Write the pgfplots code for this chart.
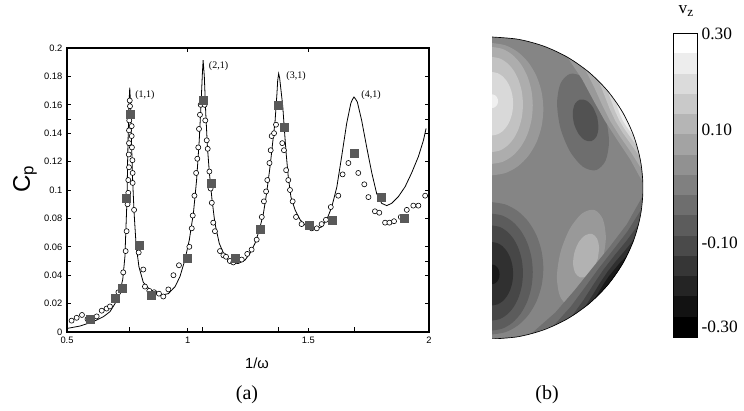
\documentclass[border=0pt]{standalone}
\usepackage{fontspec}
\setmainfont{Liberation Serif}
\setsansfont{Liberation Sans}
\usepackage{pgfplots}
\pgfplotsset{compat=1.18}

\begin{document}
\begin{tikzpicture}
\path[use as bounding box] (0pt,0pt) rectangle (558pt,308.25pt);

% ---------------- (a) power coefficient ----------------
\begin{axis}[
    at={(50.25pt,59.25pt)}, anchor=south west,
    scale only axis, width=271.5pt, height=213pt,
    xmin=0.5, xmax=2, ymin=0, ymax=0.2,
    xtick={0.5,1,1.5,2}, xticklabels={0.5,1,1.5,2},
    ytick={0,0.02,0.04,0.06,0.08,0.1,0.12,0.14,0.16,0.18,0.2},
    yticklabels={0,0.02,0.04,0.06,0.08,0.1,0.12,0.14,0.16,0.18,0.2},
    extra x ticks={0.76,1.062,1.376,1.689}, extra x tick labels={},
    extra x tick style={major tick length=4pt, tick pos=left},
    extra y ticks={0.05,0.15}, extra y tick labels={},
    tick align=inside, major tick length=3pt,
    every tick/.style={black, line width=0.6pt},
    ticklabel style={font=\sffamily\fontsize{7}{7}\selectfont},
    axis line style={line width=0.8pt},
]
% theory
\addplot[black, line width=0.6pt] coordinates {
 (0.5,0.0025) (0.554,0.0042) (0.609,0.0073) (0.651,0.0108) (0.678,0.0143)
 (0.699,0.020) (0.717,0.027) (0.731,0.037) (0.740,0.053) (0.744,0.072)
 (0.749,0.095) (0.751,0.119) (0.754,0.142) (0.757,0.161) (0.760,0.172)
 (0.764,0.159) (0.768,0.130) (0.772,0.107) (0.778,0.084) (0.786,0.062)
 (0.798,0.046) (0.816,0.035) (0.837,0.031) (0.865,0.027) (0.892,0.026)
 (0.920,0.027) (0.948,0.032) (0.968,0.039) (0.989,0.051) (1.007,0.065)
 (1.024,0.084) (1.037,0.107) (1.048,0.135) (1.055,0.159) (1.061,0.182)
 (1.064,0.1915) (1.069,0.180) (1.075,0.154) (1.082,0.130) (1.090,0.112)
 (1.101,0.093) (1.113,0.0765) (1.131,0.0624) (1.155,0.053) (1.182,0.0488)
 (1.210,0.0483) (1.238,0.0507) (1.258,0.0554) (1.279,0.0624) (1.297,0.0718)
 (1.314,0.0836) (1.327,0.0976) (1.341,0.116) (1.355,0.1375) (1.362,0.148)
 (1.370,0.168) (1.373,0.177) (1.377,0.182) (1.381,0.179) (1.385,0.173)
 (1.394,0.159) (1.401,0.142) (1.408,0.126) (1.417,0.109) (1.428,0.095)
 (1.445,0.086) (1.466,0.079) (1.493,0.074) (1.528,0.0725) (1.555,0.074)
 (1.576,0.079) (1.597,0.088) (1.618,0.102) (1.638,0.1235) (1.659,0.147)
 (1.676,0.161) (1.682,0.1635) (1.689,0.1655) (1.696,0.164) (1.703,0.162)
 (1.721,0.149) (1.742,0.130) (1.763,0.112) (1.783,0.0976) (1.804,0.0906)
 (1.825,0.089) (1.845,0.0906) (1.873,0.0953) (1.901,0.1023) (1.928,0.112)
 (1.956,0.1235) (1.977,0.135) (1.988,0.1434)
};
% open circles
\addplot[only marks, mark=*, mark size=1.9pt,
  mark options={draw=black, fill=white, line width=0.45pt}] coordinates {
 (0.519,0.008) (0.540,0.010) (0.562,0.012) (0.585,0.009) (0.623,0.011)
 (0.644,0.015) (0.664,0.0165) (0.678,0.018) (0.713,0.028) (0.733,0.042)
 (0.743,0.057) (0.747,0.071) (0.751,0.090) (0.754,0.098) (0.754,0.107)
 (0.757,0.116) (0.756,0.125) (0.757,0.133) (0.757,0.142) (0.758,0.149)
 (0.761,0.159) (0.760,0.163) (0.765,0.154) (0.768,0.145) (0.768,0.138)
 (0.769,0.130) (0.771,0.121) (0.772,0.112) (0.772,0.105) (0.778,0.086)
 (0.797,0.056) (0.816,0.044) (0.823,0.032) (0.841,0.029) (0.861,0.028)
 (0.881,0.027) (0.899,0.025) (0.920,0.030) (0.941,0.040) (0.964,0.047)
 (1.007,0.060) (1.017,0.073) (1.021,0.082) (1.028,0.096) (1.035,0.112)
 (1.040,0.122) (1.044,0.130) (1.047,0.143) (1.051,0.153) (1.054,0.160)
 (1.062,0.163) (1.070,0.160) (1.073,0.149) (1.079,0.135) (1.083,0.129)
 (1.090,0.113) (1.095,0.101) (1.100,0.091) (1.106,0.077) (1.113,0.071)
 (1.134,0.057) (1.148,0.054) (1.159,0.053) (1.175,0.050) (1.189,0.049)
 (1.206,0.050) (1.224,0.051) (1.247,0.055) (1.265,0.058) (1.286,0.065)
 (1.307,0.081) (1.316,0.092) (1.325,0.099) (1.330,0.107) (1.339,0.119)
 (1.344,0.128) (1.348,0.138) (1.358,0.140) (1.366,0.146) (1.392,0.133)
 (1.399,0.128) (1.408,0.114) (1.417,0.107) (1.424,0.100) (1.435,0.092)
 (1.449,0.081) (1.472,0.076) (1.514,0.073) (1.535,0.073) (1.555,0.076)
 (1.573,0.079) (1.593,0.088) (1.624,0.096) (1.642,0.111) (1.666,0.119)
 (1.707,0.112) (1.732,0.104) (1.749,0.095) (1.776,0.085) (1.794,0.084)
 (1.818,0.077) (1.836,0.077) (1.855,0.078) (1.883,0.081) (1.908,0.086)
 (1.935,0.089) (1.956,0.089) (1.984,0.096)
};
% filled squares
\addplot[only marks, mark=square*, mark size=3pt, color=black!65] coordinates {
 (0.595,0.009) (0.699,0.0237) (0.729,0.031) (0.747,0.094) (0.764,0.153)
 (0.800,0.061) (0.849,0.0256) (1.000,0.052) (1.065,0.163) (1.097,0.105)
 (1.198,0.052) (1.300,0.072) (1.376,0.160) (1.399,0.144) (1.503,0.075)
 (1.601,0.079) (1.689,0.126) (1.803,0.0946) (1.899,0.080)
};
\node[font=\fontsize{7.5}{7.5}\selectfont] at (axis cs:0.823,0.1668) {(1,1)};
\node[font=\fontsize{7.5}{7.5}\selectfont] at (axis cs:1.128,0.1873) {(2,1)};
\node[font=\fontsize{7.5}{7.5}\selectfont] at (axis cs:1.449,0.1799) {(3,1)};
\node[font=\fontsize{7.5}{7.5}\selectfont] at (axis cs:1.760,0.1668) {(4,1)};
\end{axis}

\node[rotate=90, font=\sffamily\fontsize{18}{18}\selectfont] at (18.75pt,174pt) {C\textsubscript{p}};
\node[font=\sffamily\fontsize{11}{11}\selectfont] at (192.75pt,36pt) {1/ω};
\node[font=\fontsize{15}{15}\selectfont] at (185.25pt,12pt) {(a)};
\node[font=\fontsize{15}{15}\selectfont] at (410.25pt,12pt) {(b)};

% ---------------- (b) v_z on the half disk ----------------
\begin{axis}[
    at={(369pt,54pt)}, anchor=south west,
    scale only axis, width=113.25pt, height=226.5pt,
    xmin=0, xmax=1, ymin=-1, ymax=1,
    hide axis,
]
% background level
\addplot[draw=none, fill=black!48, smooth] coordinates {
 (0,-1) (0.1736,-0.9848) (0.3420,-0.9397) (0.5,-0.8660) (0.6428,-0.7660)
 (0.7660,-0.6428) (0.8660,-0.5) (0.9397,-0.3420) (0.9848,-0.1736) (1,0)
 (0.9848,0.1736) (0.9397,0.3420) (0.8660,0.5) (0.7660,0.6428) (0.6428,0.7660)
 (0.5,0.8660) (0.3420,0.9397) (0.1736,0.9848) (0,1)} -- cycle;
% positive cell on the axis (upper left)
\addplot[draw=none, fill=black!40, smooth] coordinates {
 (0,0.960) (0.0881,0.9451) (0.170,0.9013) (0.2404,0.8317) (0.2944,0.741)
 (0.3284,0.6354) (0.34,0.522) (0.3284,0.4086) (0.2944,0.303) (0.2404,0.2123)
 (0.170,0.1427) (0.0881,0.0989) (0,0.084)} -- cycle;
\addplot[draw=none, fill=black!32, smooth] coordinates {
 (0,0.934) (0.0699,0.9208) (0.135,0.8821) (0.1909,0.8206) (0.2338,0.7405)
 (0.2608,0.6472) (0.27,0.547) (0.2608,0.4468) (0.2338,0.3535) (0.1909,0.2734)
 (0.135,0.2119) (0.0699,0.1732) (0,0.160)} -- cycle;
\addplot[draw=none, fill=black!24, smooth] coordinates {
 (0,0.868) (0.0531,0.8573) (0.1025,0.8258) (0.1449,0.7757) (0.1775,0.7105)
 (0.198,0.6346) (0.205,0.553) (0.198,0.4714) (0.1775,0.3955) (0.1449,0.3303)
 (0.1025,0.2802) (0.0531,0.2487) (0,0.238)} -- cycle;
\addplot[draw=none, fill=black!15, smooth] coordinates {
 (0,0.768) (0.0363,0.7609) (0.07,0.7399) (0.099,0.7065) (0.1212,0.663)
 (0.1352,0.6124) (0.14,0.558) (0.1352,0.5036) (0.1212,0.453) (0.099,0.4095)
 (0.07,0.3761) (0.0363,0.3551) (0,0.348)} -- cycle;
\addplot[draw=none, fill=black!6, smooth] coordinates {
 (0,0.62) (0.0104,0.6185) (0.02,0.614) (0.0283,0.6068) (0.0346,0.5975)
 (0.0386,0.5867) (0.04,0.575) (0.0386,0.5633) (0.0346,0.5525) (0.0283,0.5432)
 (0.02,0.536) (0.0104,0.5315) (0,0.53)} -- cycle;
% negative cell on the axis (lower left)
\addplot[draw=none, fill=black!56, smooth] coordinates {
 (0,-0.970) (0.0881,-0.9551) (0.170,-0.9113) (0.2404,-0.8417) (0.2944,-0.751)
 (0.3284,-0.6454) (0.34,-0.532) (0.3284,-0.4186) (0.2944,-0.313) (0.2404,-0.2223)
 (0.170,-0.1527) (0.0881,-0.1089) (0,-0.094)} -- cycle;
\addplot[draw=none, fill=black!64, smooth] coordinates {
 (0,-0.944) (0.0699,-0.9308) (0.135,-0.8921) (0.1909,-0.8306) (0.2338,-0.7505)
 (0.2608,-0.6572) (0.27,-0.557) (0.2608,-0.4568) (0.2338,-0.3635) (0.1909,-0.2834)
 (0.135,-0.2219) (0.0699,-0.1832) (0,-0.170)} -- cycle;
\addplot[draw=none, fill=black!72, smooth] coordinates {
 (0,-0.878) (0.0531,-0.8673) (0.1025,-0.8358) (0.1449,-0.7857) (0.1775,-0.7205)
 (0.198,-0.6446) (0.205,-0.563) (0.198,-0.4814) (0.1775,-0.4055) (0.1449,-0.3403)
 (0.1025,-0.2902) (0.0531,-0.2587) (0,-0.248)} -- cycle;
\addplot[draw=none, fill=black!81, smooth] coordinates {
 (0,-0.778) (0.0363,-0.7709) (0.07,-0.7499) (0.099,-0.7165) (0.1212,-0.673)
 (0.1352,-0.6224) (0.14,-0.568) (0.1352,-0.5136) (0.1212,-0.463) (0.099,-0.4195)
 (0.07,-0.3861) (0.0363,-0.3651) (0,-0.358)} -- cycle;
\addplot[draw=none, fill=black!90, smooth] coordinates {
 (0,-0.507) (0.013,-0.5092) (0.025,-0.5157) (0.0354,-0.526) (0.0433,-0.5395)
 (0.0483,-0.5552) (0.05,-0.572) (0.0483,-0.5888) (0.0433,-0.6045) (0.0354,-0.618)
 (0.025,-0.6283) (0.013,-0.6348) (0,-0.637)} -- cycle;
% negative cell (upper right)
\addplot[draw=none, fill=black!57, smooth] coordinates {
 (0.753,0.477) (0.690,0.631) (0.604,0.733) (0.518,0.756) (0.454,0.693)
 (0.431,0.562) (0.453,0.397) (0.516,0.243) (0.602,0.141) (0.688,0.118)
 (0.752,0.181) (0.775,0.312) (0.753,0.477)} -- cycle;
\addplot[draw=none, fill=black!68, smooth] coordinates {
 (0.697,0.469) (0.668,0.535) (0.627,0.578) (0.583,0.586) (0.549,0.557)
 (0.535,0.499) (0.543,0.427) (0.572,0.361) (0.613,0.318) (0.657,0.310)
 (0.691,0.339) (0.705,0.397) (0.697,0.469)} -- cycle;
% positive cell (lower right)
\addplot[draw=none, fill=black!40, smooth] coordinates {
 (0.730,-0.498) (0.669,-0.651) (0.588,-0.753) (0.507,-0.777) (0.450,-0.716)
 (0.430,-0.587) (0.454,-0.424) (0.515,-0.271) (0.596,-0.169) (0.677,-0.145)
 (0.734,-0.206) (0.754,-0.335) (0.730,-0.498)} -- cycle;
\addplot[draw=none, fill=black!30, smooth] coordinates {
 (0.700,-0.469) (0.671,-0.538) (0.628,-0.583) (0.584,-0.592) (0.551,-0.562)
 (0.537,-0.502) (0.546,-0.427) (0.575,-0.358) (0.618,-0.313) (0.662,-0.304)
 (0.695,-0.334) (0.709,-0.394) (0.700,-0.469)} -- cycle;
% boundary layer, upper wall (bright)
\addplot[draw=none, fill=black!40] coordinates {
 (0.9994,0.0349) (0.9793,0.2023) (0.9315,0.3637) (0.8572,0.5150) (0.7583,0.6518)
 (0.6385,0.7697) (0.5,0.8660) (0.5970,0.7196) (0.6729,0.5784) (0.7457,0.4481)
 (0.8266,0.3227) (0.9157,0.1891)} -- cycle;
\addplot[draw=none, fill=black!32] coordinates {
 (0.9926,0.1219) (0.9682,0.2504) (0.9272,0.3746) (0.8704,0.4924) (0.7986,0.6018)
 (0.7133,0.7009) (0.6157,0.7880) (0.6776,0.6659) (0.7295,0.5497) (0.7833,0.4432)
 (0.8469,0.3422) (0.9197,0.2379)} -- cycle;
\addplot[draw=none, fill=black!24] coordinates {
 (0.9782,0.2079) (0.9537,0.3007) (0.9205,0.3907) (0.8788,0.4772) (0.8290,0.5592)
 (0.7716,0.6361) (0.7071,0.7071) (0.7446,0.6138) (0.7788,0.5253) (0.8173,0.4438)
 (0.8647,0.3670) (0.9203,0.2902)} -- cycle;
\addplot[draw=none, fill=black!15] coordinates {
 (0.9613,0.2756) (0.9397,0.3420) (0.9135,0.4067) (0.8830,0.4695) (0.8480,0.5299)
 (0.8090,0.5878) (0.7660,0.6428) (0.7908,0.5746) (0.8150,0.5093) (0.8432,0.4483)
 (0.8779,0.3909) (0.9185,0.3343)} -- cycle;
\addplot[draw=none, fill=black!6] coordinates {
 (0.9397,0.3420) (0.9239,0.3827) (0.9063,0.4226) (0.8870,0.4618) (0.8660,0.5)
 (0.8434,0.5373) (0.8192,0.5736) (0.8328,0.5306) (0.8473,0.4892) (0.8648,0.4502)
 (0.8867,0.4135) (0.9123,0.3779)} -- cycle;
% boundary layer, lower wall (dark)
\addplot[draw=none, fill=black!56] coordinates {
 (0.9986,-0.0523) (0.9659,-0.2588) (0.8910,-0.4540) (0.7771,-0.6293) (0.6293,-0.7771)
 (0.4540,-0.8910) (0.2588,-0.9659) (0.4199,-0.8242) (0.5476,-0.6762) (0.6606,-0.5349)
 (0.7753,-0.3950) (0.8935,-0.2394)} -- cycle;
\addplot[draw=none, fill=black!64] coordinates {
 (0.9903,-0.1392) (0.9528,-0.3035) (0.8884,-0.4591) (0.7986,-0.6018) (0.6860,-0.7276)
 (0.5544,-0.8323) (0.4067,-0.9135) (0.5225,-0.7844) (0.6177,-0.6551) (0.7068,-0.5326)
 (0.7999,-0.4134) (0.8981,-0.2861)} -- cycle;
\addplot[draw=none, fill=black!72] coordinates {
 (0.9703,-0.2419) (0.9315,-0.3637) (0.8774,-0.4798) (0.8090,-0.5878) (0.7274,-0.6862)
 (0.6340,-0.7733) (0.5299,-0.8480) (0.6070,-0.7405) (0.6738,-0.6357) (0.7403,-0.5378)
 (0.8128,-0.4445) (0.8919,-0.3482)} -- cycle;
\addplot[draw=none, fill=black!81] coordinates {
 (0.9397,-0.3420) (0.9039,-0.4279) (0.8602,-0.5101) (0.8090,-0.5878) (0.7509,-0.6604)
 (0.6860,-0.7276) (0.6157,-0.7880) (0.6671,-0.7076) (0.7151,-0.6290) (0.7645,-0.5555)
 (0.8192,-0.4858) (0.8790,-0.4161)} -- cycle;
\addplot[draw=none, fill=black!90] coordinates {
 (0.8910,-0.4540) (0.8631,-0.5050) (0.8323,-0.5544) (0.7986,-0.6018) (0.7622,-0.6473)
 (0.7234,-0.6905) (0.6820,-0.7314) (0.7125,-0.6801) (0.7424,-0.6305) (0.7747,-0.5838)
 (0.8106,-0.5400) (0.8501,-0.4919)} -- cycle;
% wall
\addplot[black, line width=0.5pt, smooth] coordinates {
 (0,-1) (0.1736,-0.9848) (0.3420,-0.9397) (0.5,-0.8660) (0.6428,-0.7660)
 (0.7660,-0.6428) (0.8660,-0.5) (0.9397,-0.3420) (0.9848,-0.1736) (1,0)
 (0.9848,0.1736) (0.9397,0.3420) (0.8660,0.5) (0.7660,0.6428) (0.6428,0.7660)
 (0.5,0.8660) (0.3420,0.9397) (0.1736,0.9848) (0,1)};
\end{axis}

% ---------------- colour bar ----------------
\begin{axis}[
    at={(504.75pt,55.5pt)}, anchor=south west,
    scale only axis, width=18pt, height=228pt,
    xmin=0, xmax=1, ymin=-0.3, ymax=0.3,
    xtick=\empty,
    ytick={-0.28,-0.114,0.109,0.299},
    yticklabels={-0.30,-0.10,0.10,0.30},
    yticklabel pos=right,
    major tick length=0pt,
    yticklabel style={font=\fontsize{13}{13}\selectfont},
    axis line style={line width=0.6pt},
    axis on top,
]
\addplot[draw=none, fill=black!100] coordinates {(0,-0.300) (1,-0.300) (1,-0.256) (0,-0.256)} -- cycle;
\addplot[draw=none, fill=black!93] coordinates {(0,-0.260) (1,-0.260) (1,-0.216) (0,-0.216)} -- cycle;
\addplot[draw=none, fill=black!86] coordinates {(0,-0.220) (1,-0.220) (1,-0.176) (0,-0.176)} -- cycle;
\addplot[draw=none, fill=black!79] coordinates {(0,-0.180) (1,-0.180) (1,-0.136) (0,-0.136)} -- cycle;
\addplot[draw=none, fill=black!71] coordinates {(0,-0.140) (1,-0.140) (1,-0.096) (0,-0.096)} -- cycle;
\addplot[draw=none, fill=black!64] coordinates {(0,-0.100) (1,-0.100) (1,-0.056) (0,-0.056)} -- cycle;
\addplot[draw=none, fill=black!57] coordinates {(0,-0.060) (1,-0.060) (1,-0.016) (0,-0.016)} -- cycle;
\addplot[draw=none, fill=black!50] coordinates {(0,-0.020) (1,-0.020) (1,0.024) (0,0.024)} -- cycle;
\addplot[draw=none, fill=black!43] coordinates {(0,0.020) (1,0.020) (1,0.064) (0,0.064)} -- cycle;
\addplot[draw=none, fill=black!36] coordinates {(0,0.060) (1,0.060) (1,0.104) (0,0.104)} -- cycle;
\addplot[draw=none, fill=black!29] coordinates {(0,0.100) (1,0.100) (1,0.144) (0,0.144)} -- cycle;
\addplot[draw=none, fill=black!21] coordinates {(0,0.140) (1,0.140) (1,0.184) (0,0.184)} -- cycle;
\addplot[draw=none, fill=black!14] coordinates {(0,0.180) (1,0.180) (1,0.224) (0,0.224)} -- cycle;
\addplot[draw=none, fill=black!7] coordinates {(0,0.220) (1,0.220) (1,0.264) (0,0.264)} -- cycle;
\addplot[draw=none, fill=white] coordinates {(0,0.260) (1,0.260) (1,0.300) (0,0.300)} -- cycle;
\end{axis}

\node[font=\fontsize{13}{13}\selectfont] at (514.5pt,300pt) {v\raisebox{-0.4ex}{\fontsize{10}{10}\selectfont z}};
\end{tikzpicture}
\end{document}
